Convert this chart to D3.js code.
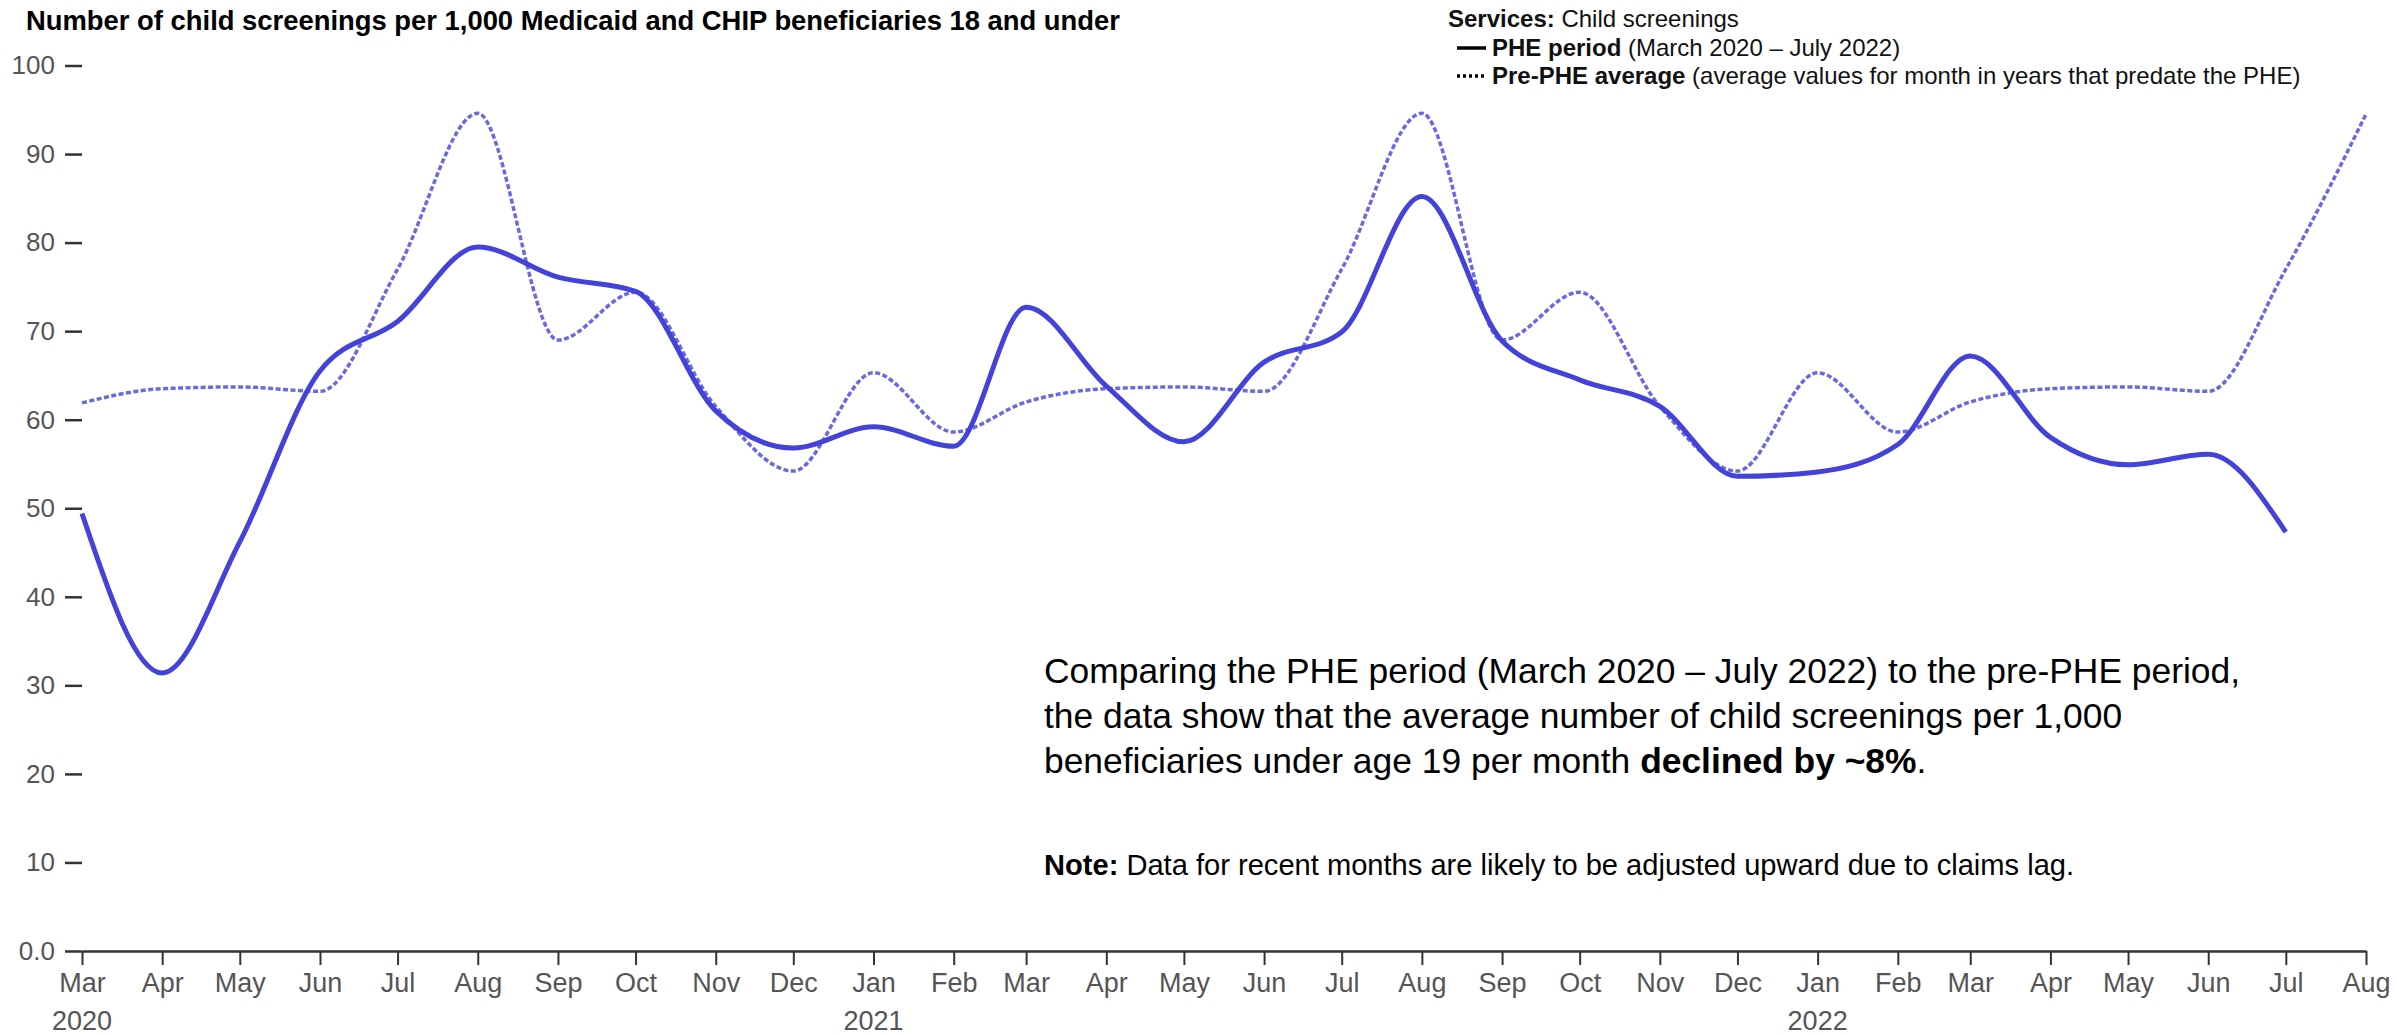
<!DOCTYPE html>
<html>
<head>
<meta charset="utf-8">
<script src="https://cdn.jsdelivr.net/npm/d3@7"></script>
<style>
  body { margin: 0; background: #fff; }
  svg { display: block; font-family: Arial, "Liberation Sans", sans-serif; }
</style>
</head>
<body>
<svg width="2397" height="1035"></svg>
<script>
// months on the x axis (Mar 2020 - Aug 2022)
var months = ["2020-03","2020-04","2020-05","2020-06","2020-07","2020-08","2020-09","2020-10","2020-11","2020-12",
  "2021-01","2021-02","2021-03","2021-04","2021-05","2021-06","2021-07","2021-08","2021-09","2021-10","2021-11","2021-12",
  "2022-01","2022-02","2022-03","2022-04","2022-05","2022-06","2022-07","2022-08"];

// PHE period, Mar 2020 - Jul 2022
var pheValues = [49.4, 31.4, 46.2, 65.5, 71.1, 79.5, 76.1, 74.5, 61, 56.8,
  59.2, 57, 72.7, 63.8, 57.5, 66.5, 69.9, 85.2, 68.9, 64.5, 61.5, 53.6,
  54.1, 57.2, 67.2, 58, 54.9, 56.1, 47.3];

// pre-PHE average, same month in earlier years (Mar 2020 - Aug 2022)
var preValues = [61.9, 63.5, 63.7, 63.2, 77, 94.6, 69, 74.4, 61.5, 54.2,
  65.3, 58.6, 62, 63.5, 63.7, 63.2, 77, 94.6, 69, 74.4, 61.5, 54.2,
  65.3, 58.6, 62, 63.5, 63.7, 63.2, 77, 94.5];

var yTicks = [0, 10, 20, 30, 40, 50, 60, 70, 80, 90, 100];
var yearLabels = [["2020-03", "2020"], ["2021-01", "2021"], ["2022-01", "2022"]];

var parseMonth = d3.timeParse("%Y-%m");
var dates = months.map(parseMonth);

var pheData = pheValues.map(function(v, i) { return {date: dates[i], value: v}; });
var preData = preValues.map(function(v, i) { return {date: dates[i], value: v}; });

var svg = d3.select("svg");
var lineColor = "#4343d9";

var x = d3.scaleTime()
  .domain([dates[0], dates[dates.length - 1]])
  .range([82, 2366]);

var y = d3.scaleLinear()
  .domain([0, 100])
  .range([951, 65.5]);

// y axis: ticks only, no domain line
var yAxis = svg.append("g")
  .attr("transform", "translate(82,0)")
  .call(d3.axisLeft(y)
    .tickValues(yTicks)
    .tickSize(17)
    .tickPadding(10)
    .tickFormat(function(d) { return d === 0 ? "0.0" : d; }));
yAxis.select(".domain").remove();
yAxis.selectAll("line").attr("stroke", "#333").attr("stroke-width", 2.5);
yAxis.selectAll("text").attr("fill", "#555").style("font-size", "26px").style("font-family", "Arial, 'Liberation Sans', sans-serif");

// x axis
var xAxis = svg.append("g")
  .attr("transform", "translate(0,951)")
  .call(d3.axisBottom(x)
    .tickValues(dates)
    .tickSize(14)
    .tickPadding(8)
    .tickSizeOuter(0)
    .tickFormat(d3.timeFormat("%b")));
xAxis.select(".domain").attr("stroke", "#333").attr("stroke-width", 2.5);
xAxis.selectAll("line").attr("stroke", "#333").attr("stroke-width", 2);
xAxis.selectAll("text").attr("fill", "#555").style("font-size", "27px").style("font-family", "Arial, 'Liberation Sans', sans-serif");

svg.append("g").selectAll("text")
  .data(yearLabels)
  .enter().append("text")
  .attr("x", function(d) { return x(parseMonth(d[0])); })
  .attr("y", 1030)
  .attr("text-anchor", "middle")
  .attr("fill", "#555")
  .style("font-size", "27px")
  .text(function(d) { return d[1]; });

var line = d3.line()
  .x(function(d) { return x(d.date); })
  .y(function(d) { return y(d.value); })
  .curve(d3.curveMonotoneX);

svg.append("path")
  .datum(preData)
  .attr("fill", "none")
  .attr("stroke", lineColor)
  .attr("stroke-opacity", 0.8)
  .attr("stroke-width", 3.5)
  .attr("stroke-dasharray", "5,2.5")
  .attr("d", line);

svg.append("path")
  .datum(pheData)
  .attr("fill", "none")
  .attr("stroke", lineColor)
  .attr("stroke-width", 5)
  .attr("d", line);

// title
svg.append("text")
  .attr("x", 26)
  .attr("y", 30)
  .style("font-size", "27.4px")
  .style("font-weight", "bold")
  .text("Number of child screenings per 1,000 Medicaid and CHIP beneficiaries 18 and under");

// legend
var legend = svg.append("g").style("font-size", "24px").attr("fill", "#111");
var t1 = legend.append("text").attr("x", 1448).attr("y", 27);
t1.append("tspan").style("font-weight", "bold").text("Services:");
t1.append("tspan").text(" Child screenings");

legend.append("line").attr("x1", 1457).attr("x2", 1486).attr("y1", 48).attr("y2", 48)
  .attr("stroke", "#000").attr("stroke-width", 3.5);
var t2 = legend.append("text").attr("x", 1492).attr("y", 56);
t2.append("tspan").style("font-weight", "bold").text("PHE period");
t2.append("tspan").text(" (March 2020 \u2013 July 2022)");

legend.append("line").attr("x1", 1457).attr("x2", 1486).attr("y1", 76).attr("y2", 76)
  .attr("stroke", "#000").attr("stroke-width", 3.5).attr("stroke-dasharray", "3,3");
var t3 = legend.append("text").attr("x", 1492).attr("y", 84);
t3.append("tspan").style("font-weight", "bold").text("Pre-PHE average");
t3.append("tspan").text(" (average values for month in years that predate the PHE)");

// annotation
var note = svg.append("g").style("font-size", "35.4px").attr("fill", "#000");
note.append("text").attr("x", 1044).attr("y", 683)
  .text("Comparing the PHE period (March 2020 \u2013 July 2022) to the pre-PHE period,");
note.append("text").attr("x", 1044).attr("y", 728)
  .text("the data show that the average number of child screenings per 1,000");
var n3 = note.append("text").attr("x", 1044).attr("y", 773);
n3.append("tspan").text("beneficiaries under age 19 per month ");
n3.append("tspan").style("font-weight", "bold").text("declined by ~8%");
n3.append("tspan").text(".");

var n4 = svg.append("text").attr("x", 1044).attr("y", 875).style("font-size", "29.1px");
n4.append("tspan").style("font-weight", "bold").text("Note:");
n4.append("tspan").text(" Data for recent months are likely to be adjusted upward due to claims lag.");
</script>
</body>
</html>
